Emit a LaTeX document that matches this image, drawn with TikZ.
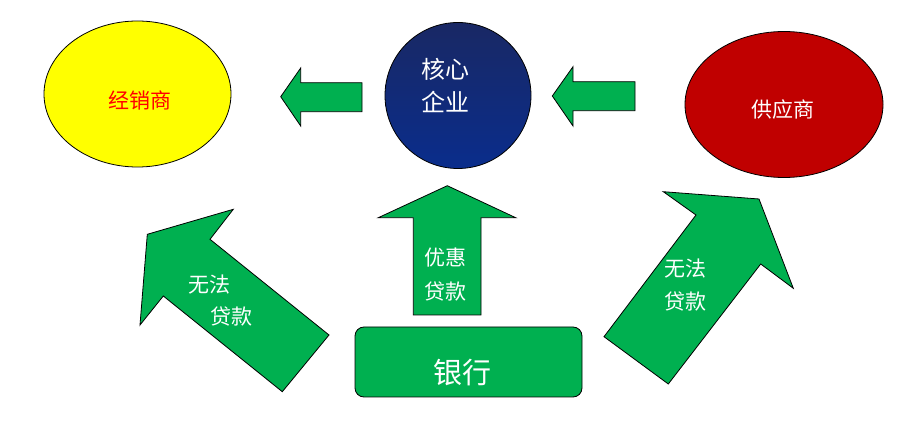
\documentclass[tikz,border=0pt]{standalone}
\usepackage{fontspec}
\newfontfamily\cjk{Noto Sans CJK SC}
\usepackage{tikz}
\usetikzlibrary{shapes.geometric}

\definecolor{arrowgreen}{RGB}{0,176,80}
\definecolor{dealeryellow}{RGB}{255,255,0}
\definecolor{supplierred}{RGB}{192,0,0}
\definecolor{coretop}{RGB}{25,40,100}
\definecolor{corebottom}{RGB}{10,45,140}

\tikzset{
	blockarrow/.style={draw=black, line width=0.8pt, fill=arrowgreen, line join=miter},
	labeltext/.style={font=\cjk\fontsize{21}{23}\selectfont, text=white, inner sep=0pt},
}

\begin{document}
\begin{tikzpicture}[x=1pt,y=-1pt]
	\useasboundingbox (0,0) rectangle (924,443);
	
	%nodes
	\node[ellipse, draw, line width=0.8pt, fill=dealeryellow, minimum width=187pt, minimum height=146pt] (dealer) at (137.5,94) {};
	\node[circle, draw, line width=0.8pt, top color=coretop, bottom color=corebottom, minimum size=146pt] (core) at (458,95.5) {};
	\node[ellipse, draw, line width=0.8pt, fill=supplierred, minimum width=198pt, minimum height=146pt] (supplier) at (784,104.5) {};
	\node[draw, line width=0.8pt, fill=arrowgreen, rounded corners=9pt, minimum width=227pt, minimum height=70pt] (bank) at (468.5,362) {};
	
	%arrows
	\draw[blockarrow] (280.7,96.7)--(300.7,68)--(300.7,82.7)--(362,82.7)--(362,111.7)--(300.7,111.7)--(300.7,126)--cycle;	%core--dealer
	\draw[blockarrow] (552.3,96)--(573,66.7)--(573,81.7)--(635,81.7)--(635,110.7)--(573,110.7)--(573,126)--cycle;	%supplier--core
	\draw[blockarrow] (447.3,185.7)--(515.7,217.7)--(481,217.7)--(481,315)--(413.3,315)--(413.3,217.7)--(378.3,217.7)--cycle;	%bank--core
	\draw[blockarrow] (147.3,234.3)--(233.3,209.3)--(210,239.3)--(329,335)--(282.3,391.7)--(163.3,296)--(140,325)--cycle;	%bank--dealer
	\draw[blockarrow] (759,199)--(793.3,288.3)--(760.7,264)--(668.3,384)--(604,336.7)--(696,215)--(663.3,191.7)--cycle;	%bank--supplier
	
	%labels
	\node[labeltext, text=red] (dealertext) at (140,100) {经销商};
	\node[labeltext, font=\cjk\fontsize{24}{26}\selectfont] (coretext1) at (445.7,69.3) {核心};
	\node[labeltext, font=\cjk\fontsize{24}{26}\selectfont] (coretext2) at (445.7,101.7) {企业};
	\node[labeltext] (suppliertext) at (783,110) {供应商};
	\node[labeltext, font=\cjk\fontsize{29}{31}\selectfont] (banktext) at (462.5,373) {银行};
	\node[labeltext] (loantext1) at (445,258) {优惠};
	\node[labeltext] (loantext2) at (445,291.7) {贷款};
	\node[labeltext] (leftno1) at (209.5,285) {无法};
	\node[labeltext] (leftno2) at (231.7,316.7) {贷款};
	\node[labeltext] (rightno1) at (685.3,268.3) {无法};
	\node[labeltext] (rightno2) at (685.8,301.7) {贷款};
	
\end{tikzpicture}
\end{document}
